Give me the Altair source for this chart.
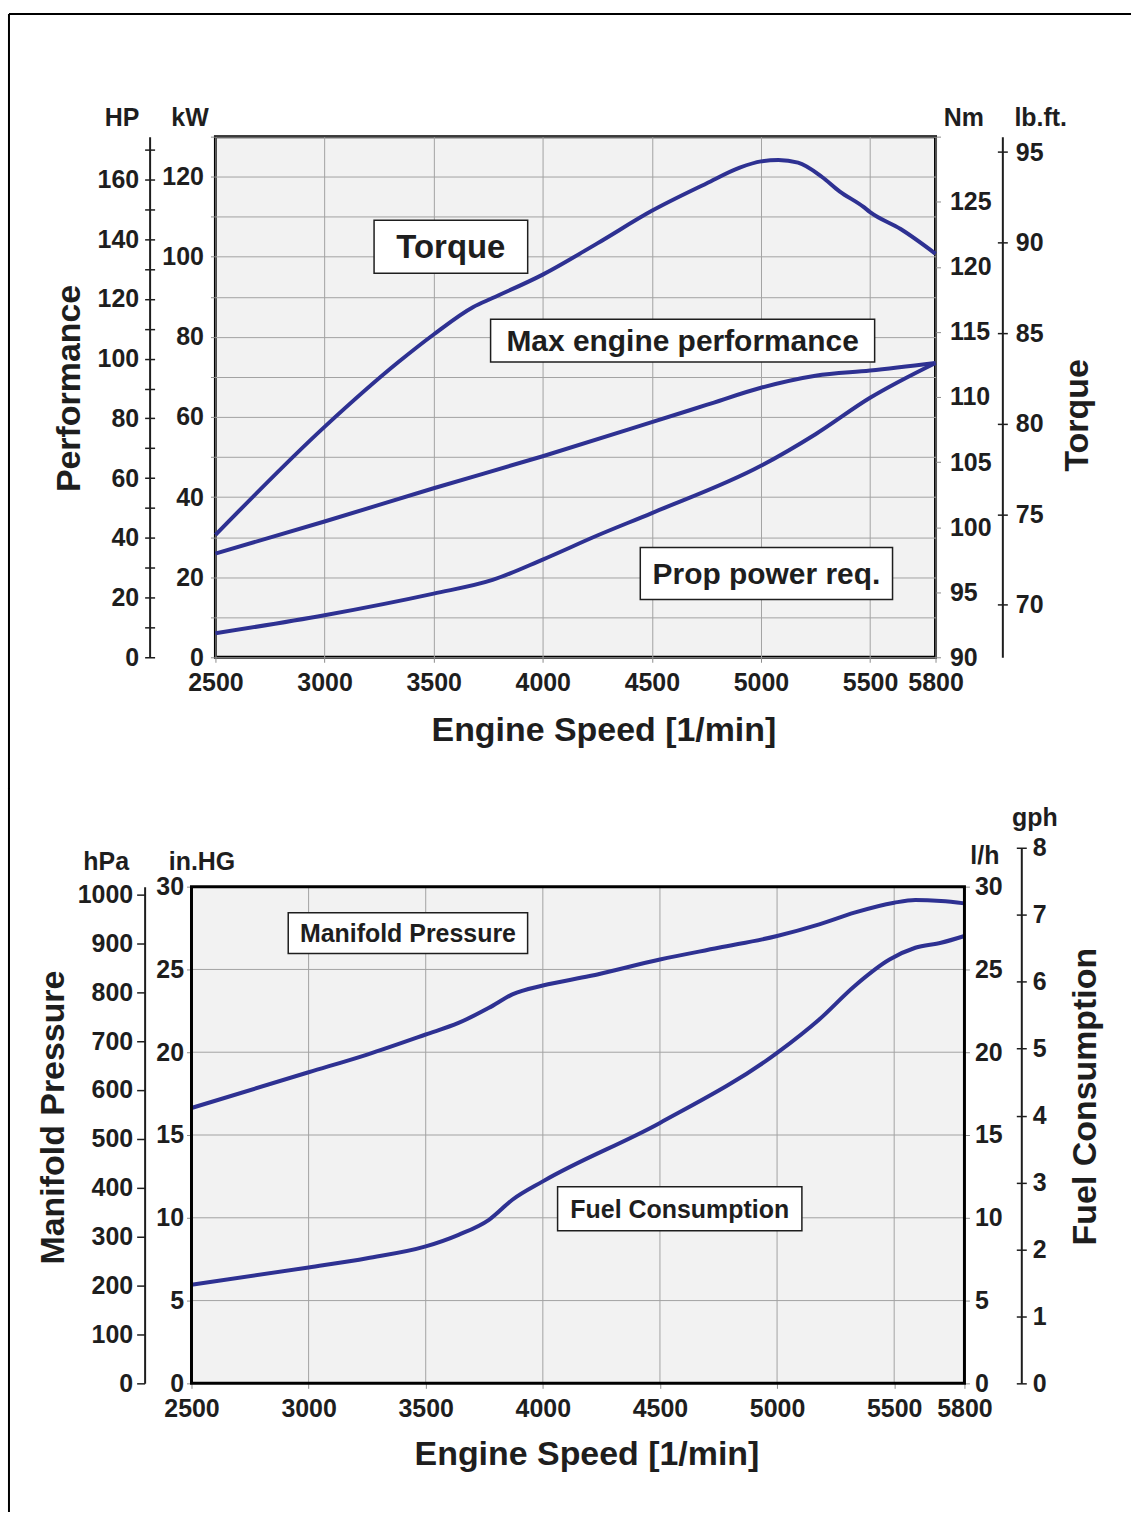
import altair as alt
import pandas as pd

# ---------------- data ----------------
# Engine performance (kW) against engine speed (1/min)
rpm_max = [2500, 3000, 3500, 4000, 4500, 4750, 5000, 5250, 5500, 5800]
kw_max = [25.9, 33.9, 42.2, 50.2, 58.7, 63.0, 67.3, 70.3, 71.6, 73.5]

# Propeller power requirement (kW)
rpm_prop = [2500, 3000, 3500, 3770, 4000, 4250, 4500, 5000, 5250, 5500, 5800]
kw_prop = [6.0, 10.5, 15.9, 19.3, 24.4, 30.4, 36.0, 47.8, 55.7, 64.8, 73.5]

# Torque (Nm)
rpm_torque = [2500, 3000, 3340, 3500, 3680, 3770, 4000, 4250, 4500, 4750, 4900,
              5000, 5080, 5170, 5280, 5360, 5470, 5500, 5640, 5800]
nm_torque = [99.4, 107.7, 112.7, 114.8, 116.9, 117.6, 119.4, 121.8, 124.3, 126.4, 127.6,
             128.1, 128.2, 128.0, 126.9, 125.8, 124.6, 124.2, 122.9, 121.0]

# Manifold pressure (in.HG)
rpm_manifold = [2500, 3000, 3250, 3500, 3640, 3770, 3870, 4000, 4200, 4500, 4750,
                5000, 5180, 5330, 5500, 5590, 5700, 5800]
inhg_manifold = [16.63, 18.79, 19.86, 21.07, 21.77, 22.68, 23.49, 24.03, 24.6, 25.6, 26.31,
                 27.02, 27.72, 28.43, 29.03, 29.19, 29.13, 28.99]

# Fuel consumption (l/h)
rpm_fuel = [2500, 3000, 3250, 3500, 3640, 3770, 3870, 4000, 4500, 5000, 5180,
            5330, 5480, 5590, 5700, 5800]
lph_fuel = [5.95, 7.0, 7.56, 8.27, 8.97, 9.88, 11.09, 12.2, 15.73, 19.96, 21.98,
            23.99, 25.6, 26.31, 26.61, 27.02]

# Boxed curve names (box corners in data units)
top_labels = ["Torque", "Max engine performance", "Prop power req."]
top_rpm_a = [3227, 3761, 4447]
top_rpm_b = [3931, 5521, 5603]
top_kw_a = [95.9, 73.7, 14.4]
top_kw_b = [109.1, 84.4, 27.4]

bottom_labels = ["Manifold Pressure", "Fuel Consumption"]
bot_rpm_a = [2913, 4063]
bot_rpm_b = [3935, 5106]
bot_inhg_a = [25.96, 9.22]
bot_inhg_b = [28.43, 11.87]

rpm_ticks = [2500, 3000, 3500, 4000, 4500, 5000, 5500, 5800]
rpm_grid = [3000, 3500, 4000, 4500, 5000, 5500]
inhg_grid = [5, 10, 15, 20, 25]

KW_PER_HP = 0.745699872
HPA_PER_INHG = 33.8638866667
L_PER_GAL = 3.785411784
# lb.ft. scale span shown beside the Nm scale
LBFT_RANGE = [67.1, 95.85]

# ---------------- styling ----------------
FONT = "'Liberation Sans', Arial, sans-serif"
INK = "#1e1e1e"
BLUE = "#2e3192"
GRID = "#a3a3a3"
PANEL = "#f2f2f2"
LABEL_SIZE = 25

W1, H1 = 722, 522
# lower panel: its plot starts SHIFT px left of the upper one
SHIFT = 24
W2, H2 = 775 - SHIFT, 498


def axis(**kw):
    base = dict(labelFont=FONT, labelFontSize=LABEL_SIZE, labelFontWeight="bold", labelColor=INK,
                titleFont=FONT, titleFontSize=LABEL_SIZE, titleFontWeight="bold", titleColor=INK,
                titleAngle=0, titleAlign="center", titleBaseline="alphabetic",
                grid=False, domain=False, labelFlush=False, labelOverlap=False, format="d",
                tickColor="#8c8c8c", tickSize=5, tickWidth=1)
    base.update(kw)
    return alt.Axis(**base)


def title_axis(orient, offset, title, tx, ty, line=True):
    return alt.Axis(orient=orient, offset=offset, title=title, labels=False, ticks=False,
                    grid=False, domain=line, domainColor=INK, domainWidth=2,
                    titleFont=FONT, titleFontSize=34, titleFontWeight="bold", titleColor=INK,
                    titleAngle=270, titleAlign="center", titleBaseline="middle",
                    titleX=tx, titleY=ty)


one_row = alt.Data(values=[{}])

# ---------------- top panel: performance and torque ----------------
power_df = pd.DataFrame({
    "rpm": rpm_max + rpm_prop,
    "kW": kw_max + kw_prop,
    "curve": ["max"] * len(rpm_max) + ["prop"] * len(rpm_prop),
})
torque_df = pd.DataFrame({"rpm": rpm_torque, "Nm": nm_torque})
top_box_df = pd.DataFrame({"label": top_labels, "r0": top_rpm_a, "r1": top_rpm_b,
                           "k0": top_kw_a, "k1": top_kw_b})

rpm_scale_t = alt.Scale(domain=[2500, 5800], nice=False, zero=False)
xt = alt.X("rpm:Q", scale=rpm_scale_t,
           axis=axis(values=rpm_ticks, grid=True, gridColor=GRID, gridWidth=1, labelPadding=8,
                     title="Engine Speed [1/min]", titleFontSize=34, titleX=389, titleY=83))
kw_scale = alt.Scale(domain=[0, 130], nice=False, zero=False)
hp_scale = alt.Scale(domain=[0, 130 / KW_PER_HP], nice=False, zero=False)
nm_scale = alt.Scale(domain=[90, 130], nice=False, zero=False)
lbft_scale = alt.Scale(domain=LBFT_RANGE, nice=False, zero=False)
nm_to_lbft = (LBFT_RANGE[1] - LBFT_RANGE[0]) / 40

power_lines = alt.Chart(power_df).mark_line(color=BLUE, strokeWidth=4, interpolate="monotone").encode(
    x=xt,
    y=alt.Y("kW:Q", scale=kw_scale,
            axis=axis(orient="left", values=list(range(0, 131, 10)), grid=True, gridColor=GRID,
                      gridWidth=1, labelPadding=7,
                      labelExpr="datum.value % 20 === 0 && datum.value < 130 ? datum.label : ''",
                      title="kW", titleX=-26, titleY=-11)),
    detail="curve:N",
)

torque_line = alt.Chart(torque_df).mark_line(color=BLUE, strokeWidth=4, interpolate="monotone").encode(
    x=xt,
    y=alt.Y("Nm:Q", scale=nm_scale,
            axis=axis(orient="right", values=list(range(90, 131, 5)), labelPadding=9,
                      labelExpr="datum.value < 130 ? datum.label : ''",
                      title="Nm", titleX=28, titleY=-11)),
)

hp_ticks = alt.Chart(power_df).transform_calculate(HP=f"datum.kW / {KW_PER_HP}").mark_line(
    strokeOpacity=0).encode(
    x=xt,
    y=alt.Y("HP:Q", scale=hp_scale,
            axis=axis(orient="left", offset=61, values=list(range(0, 171, 10)), tickSize=10,
                      tickColor=INK, tickWidth=1.5, labelPadding=6,
                      labelExpr="datum.value % 20 === 0 ? datum.label : ''",
                      title="HP", titleX=-33, titleY=-11)),
    detail="curve:N",
)

hp_title = alt.Chart(power_df).transform_calculate(HP=f"datum.kW / {KW_PER_HP}").mark_line(
    strokeOpacity=0).encode(
    x=xt,
    y=alt.Y("HP:Q", scale=hp_scale, axis=title_axis("left", 66, "Performance", -80, 252)),
    detail="curve:N",
)

lbft_ticks = alt.Chart(torque_df).transform_calculate(
    lbft=f"{LBFT_RANGE[0]} + (datum.Nm - 90) * {nm_to_lbft}").mark_line(strokeOpacity=0).encode(
    x=xt,
    y=alt.Y("lbft:Q", scale=lbft_scale,
            axis=axis(orient="right", offset=62, values=list(range(70, 96, 5)), tickSize=10,
                      tickColor=INK, tickWidth=1.5, labelPadding=8,
                      title="lb.ft.", titleX=43, titleY=-11)),
)

lbft_title = alt.Chart(torque_df).transform_calculate(
    lbft=f"{LBFT_RANGE[0]} + (datum.Nm - 90) * {nm_to_lbft}").mark_line(strokeOpacity=0).encode(
    x=xt,
    y=alt.Y("lbft:Q", scale=lbft_scale, axis=title_axis("right", 67, "Torque", 75, 279)),
)

top_boxes = alt.Chart(top_box_df).mark_rect(fill="white", stroke=INK, strokeWidth=1.5).encode(
    x=alt.X("r0:Q", scale=rpm_scale_t),
    x2="r1:Q",
    y=alt.Y("k0:Q", scale=kw_scale, axis=None),
    y2="k1:Q",
)

top_text = alt.Chart(top_box_df).transform_calculate(
    rc="(datum.r0 + datum.r1) / 2", kc="(datum.k0 + datum.k1) / 2"
).mark_text(font=FONT, fontWeight="bold", color=INK, baseline="middle", align="center", dy=1).encode(
    x=alt.X("rc:Q", scale=rpm_scale_t),
    y=alt.Y("kc:Q", scale=kw_scale, axis=None),
    text="label:N",
    size=alt.condition("datum.label === 'Torque'", alt.value(33), alt.value(30)),
)

# page frame: left edge and top edge
frame_left_top = alt.Chart(one_row).mark_rule(color="black", strokeWidth=2).encode(
    x=alt.value(-207), y=alt.value(-123), y2=alt.value(654))
frame_top = alt.Chart(one_row).mark_rule(color="black", strokeWidth=2).encode(
    x=alt.value(-207), x2=alt.value(918), y=alt.value(-123))

top_panel = alt.layer(
    power_lines, torque_line, hp_ticks, hp_title, lbft_ticks, lbft_title,
    top_boxes, top_text, frame_left_top, frame_top,
).resolve_scale(y="independent").properties(width=W1, height=H1)

# ---------------- bottom panel: manifold pressure and fuel ----------------
manifold_df = pd.DataFrame({"rpm": rpm_manifold, "inHG": inhg_manifold})
fuel_df = pd.DataFrame({"rpm": rpm_fuel, "lph": lph_fuel})
bot_box_df = pd.DataFrame({"label": bottom_labels, "r0": bot_rpm_a, "r1": bot_rpm_b,
                           "p0": bot_inhg_a, "p1": bot_inhg_b})
vgrid_df = pd.DataFrame({"rpm": rpm_grid})
hgrid_df = pd.DataFrame({"inHG": inhg_grid})

rpm_scale_b = alt.Scale(domain=[2500, 5800], range=[-SHIFT, W2], nice=False, zero=False)
xb = alt.X("rpm:Q", scale=rpm_scale_b,
           axis=axis(values=rpm_ticks, labelPadding=8, title="Engine Speed [1/min]",
                     titleFontSize=34, titleX=396 - SHIFT, titleY=81))
inhg_scale = alt.Scale(domain=[0, 30], nice=False, zero=False)
hpa_scale = alt.Scale(domain=[0, 30 * HPA_PER_INHG], nice=False, zero=False)
lph_scale = alt.Scale(domain=[0, 30], nice=False, zero=False)
gph_scale = alt.Scale(domain=[0, 8], range=[H2, -39], nice=False, zero=False)

panel_bg = alt.Chart(one_row).mark_rect(fill=PANEL).encode(
    x=alt.value(-SHIFT), x2=alt.value(W2), y=alt.value(0), y2=alt.value(H2))
panel_border = alt.Chart(one_row).mark_rect(fillOpacity=0, stroke="black", strokeWidth=3).encode(
    x=alt.value(-SHIFT), x2=alt.value(W2), y=alt.value(0), y2=alt.value(H2))

vgrid = alt.Chart(vgrid_df).mark_rule(color=GRID, strokeWidth=1).encode(
    x=alt.X("rpm:Q", scale=rpm_scale_b), y=alt.value(0), y2=alt.value(H2))
hgrid = alt.Chart(hgrid_df).mark_rule(color=GRID, strokeWidth=1).encode(
    y=alt.Y("inHG:Q", scale=inhg_scale, axis=None), x=alt.value(-SHIFT), x2=alt.value(W2))

manifold_line = alt.Chart(manifold_df).mark_line(color=BLUE, strokeWidth=4, interpolate="monotone").encode(
    x=xb,
    y=alt.Y("inHG:Q", scale=inhg_scale,
            axis=axis(orient="left", offset=SHIFT, values=list(range(0, 31, 5)), labelPadding=3,
                      title="in.HG", titleX=10, titleY=-17)),
)

fuel_line = alt.Chart(fuel_df).mark_line(color=BLUE, strokeWidth=4, interpolate="monotone").encode(
    x=xb,
    y=alt.Y("lph:Q", scale=lph_scale,
            axis=axis(orient="right", values=list(range(0, 31, 5)), labelPadding=5,
                      title="l/h", titleX=20, titleY=-23)),
)

hpa_axis = alt.Chart(manifold_df).transform_calculate(hPa=f"datum.inHG * {HPA_PER_INHG}").mark_line(
    strokeOpacity=0).encode(
    x=xb,
    y=alt.Y("hPa:Q", scale=hpa_scale,
            axis=axis(orient="left", offset=47 + SHIFT, values=list(range(0, 1001, 100)), tickSize=8,
                      tickColor=INK, tickWidth=1.5, domain=True, domainColor=INK, domainWidth=2,
                      labelPadding=4, title="hPa", titleX=-39, titleY=-17)),
)

hpa_title = alt.Chart(manifold_df).transform_calculate(hPa=f"datum.inHG * {HPA_PER_INHG}").mark_line(
    strokeOpacity=0).encode(
    x=xb,
    y=alt.Y("hPa:Q", scale=hpa_scale,
            axis=title_axis("left", 47 + SHIFT, "Manifold Pressure", -91, 231, line=False)),
)

gph_ticks = alt.Chart(fuel_df).transform_calculate(gph=f"datum.lph / {L_PER_GAL}").mark_line(
    strokeOpacity=0).encode(
    x=xb,
    y=alt.Y("gph:Q", scale=gph_scale,
            axis=axis(orient="right", offset=52, values=list(range(0, 9)), tickSize=10,
                      tickColor=INK, tickWidth=1.5, labelPadding=6,
                      title="gph", titleX=18, titleY=-61)),
)

gph_title = alt.Chart(fuel_df).transform_calculate(gph=f"datum.lph / {L_PER_GAL}").mark_line(
    strokeOpacity=0).encode(
    x=xb,
    y=alt.Y("gph:Q", scale=gph_scale, axis=title_axis("right", 57, "Fuel Consumption", 64, 210)),
)

bot_boxes = alt.Chart(bot_box_df).mark_rect(fill="white", stroke=INK, strokeWidth=1.5).encode(
    x=alt.X("r0:Q", scale=rpm_scale_b),
    x2="r1:Q",
    y=alt.Y("p0:Q", scale=inhg_scale, axis=None),
    y2="p1:Q",
)

bot_text = alt.Chart(bot_box_df).transform_calculate(
    rc="(datum.r0 + datum.r1) / 2", pc="(datum.p0 + datum.p1) / 2"
).mark_text(font=FONT, fontWeight="bold", color=INK, baseline="middle", align="center",
            fontSize=25, dy=1).encode(
    x=alt.X("rc:Q", scale=rpm_scale_b),
    y=alt.Y("pc:Q", scale=inhg_scale, axis=None),
    text="label:N",
)

frame_left_bottom = alt.Chart(one_row).mark_rule(color="black", strokeWidth=2).encode(
    x=alt.value(-207), y=alt.value(-99), y2=alt.value(627))

bottom_panel = alt.layer(
    panel_bg, vgrid, hgrid, manifold_line, fuel_line, hpa_axis, hpa_title, gph_ticks, gph_title,
    bot_boxes, bot_text, panel_border, frame_left_bottom,
).resolve_scale(y="independent").properties(
    width=W2, height=H2,
    view=alt.ViewBackground(fill="transparent", stroke="transparent"),
)

chart = alt.vconcat(top_panel, bottom_panel, spacing=-7).properties(
    padding={"left": 6, "top": 9, "right": 0, "bottom": 0},
    background="white",
).configure_view(
    fill=PANEL, stroke="black", strokeWidth=3,
)

chart.save("out.html", embed_options={"renderer": "svg", "actions": False})
